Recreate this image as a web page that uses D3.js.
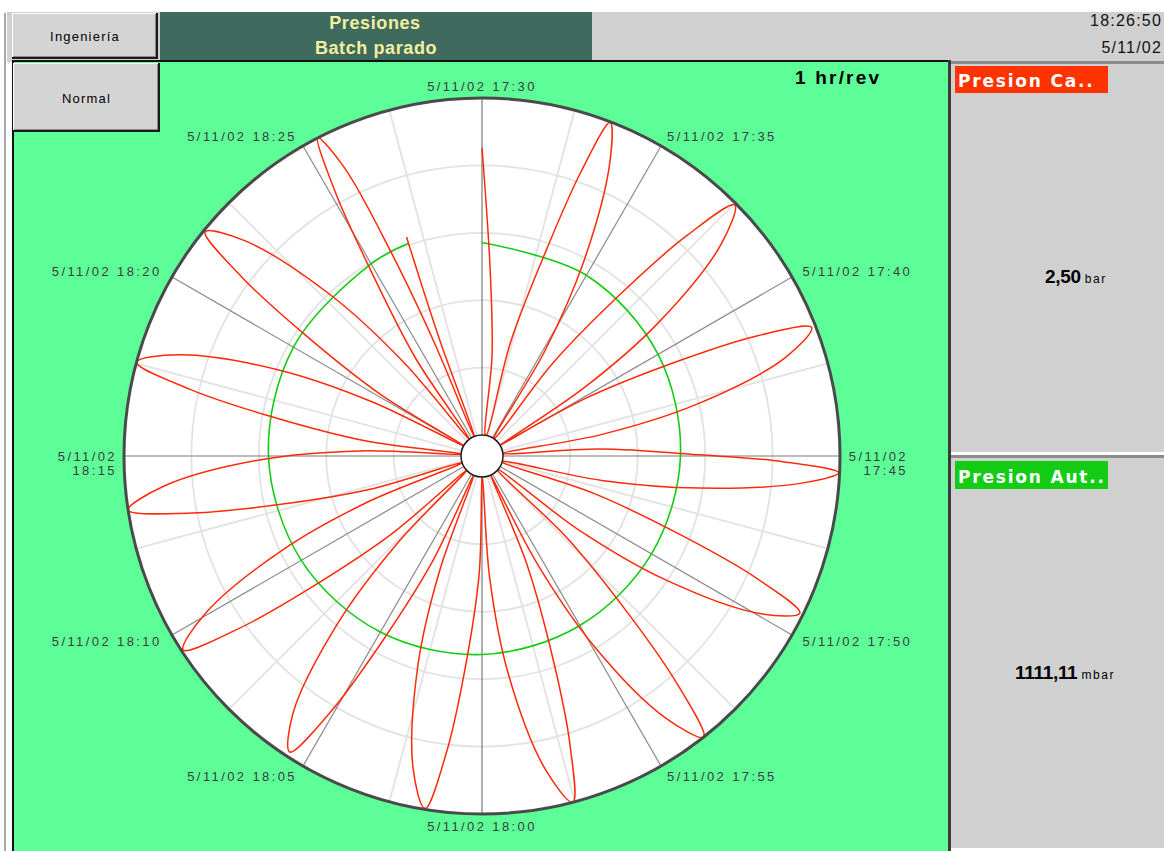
<!DOCTYPE html>
<html><head><meta charset="utf-8">
<script src="https://cdn.jsdelivr.net/npm/d3@7"></script>
<style>html,body{margin:0;padding:0;background:#fff;overflow:hidden}</style>
</head><body>
<svg id="c" width="1164" height="851"></svg>
<script>
// ---------- data ----------
const tickMinutes = [0, 5, 10, 15, 20, 25, 30, 35, 40, 45, 50, 55];
const tickLabels = ["5/11/02 17:30", "5/11/02 17:35", "5/11/02 17:40", "5/11/02 17:45",
  "5/11/02 17:50", "5/11/02 17:55", "5/11/02 18:00", "5/11/02 18:05",
  "5/11/02 18:10", "5/11/02 18:15", "5/11/02 18:20", "5/11/02 18:25"];
const minorMinutes = [2.5, 7.5, 12.5, 17.5, 22.5, 27.5, 32.5, 37.5, 42.5, 47.5, 52.5, 57.5];
const ringValues = [0.8, 1.6, 2.4, 3.2];           // bar
const redDomain = [0, 4];                            // bar
const greenDomain = [0, 1950];                       // mbar

// Presion Ca.. (bar) – minutes after 17:30
const redTime = [
  0, 0.42, 0.95, 1.45,
  1.95, 2.35, 2.90, 3.20, 3.50, 3.93, 4.60, 5.15, 5.65,
  5.93, 6.23, 6.78, 7.15, 7.53, 8.08, 8.83, 9.38, 9.83,
  9.85, 10.15, 10.70, 11.07, 11.45, 12.00, 12.75, 13.30, 13.75,
  13.93, 14.43, 14.95, 15.18, 15.45, 15.82, 16.40, 16.92, 17.45,
  17.78, 18.08, 18.63, 19.00, 19.38, 19.93, 20.68, 21.23, 21.68,
  22.02, 22.32, 22.87, 23.24, 23.62, 24.17, 24.92, 25.47, 25.92,
  25.95, 26.25, 26.80, 27.17, 27.55, 28.10, 28.85, 29.40, 29.85,
  29.93, 30.23, 30.78, 31.15, 31.53, 32.08, 32.83, 33.38, 33.83,
  33.90, 34.20, 34.75, 35.12, 35.50, 36.05, 36.80, 37.35, 37.80,
  37.90, 38.20, 38.75, 39.12, 39.50, 40.05, 40.80, 41.35, 41.80,
  41.95, 42.25, 42.80, 43.17, 43.55, 44.10, 44.85, 45.40, 45.85,
  45.93, 46.23, 46.78, 47.15, 47.53, 48.08, 48.83, 49.38, 49.83,
  49.90, 50.20, 50.75, 51.12, 51.50, 52.05, 52.80, 53.35, 53.80,
  53.90, 54.30, 54.85, 55.15, 55.45, 55.75, 56.00, 56.20, 56.38,
  56.46, 56.66, 56.83
];
const redValue = [
  3.41, 1.96, 0.95, 0,
  0, 1.15, 2.34, 3.32, 3.99, 3.54, 2.36, 1.20, 0,
  0, 1.15, 2.34, 3.32, 3.98, 3.54, 2.36, 1.20, 0,
  0, 1.15, 2.34, 3.32, 3.95, 3.54, 2.36, 1.20, 0,
  0, 1.15, 2.34, 3.32, 3.99, 3.54, 2.36, 1.20, 0,
  0, 1.15, 2.34, 3.32, 3.96, 3.54, 2.36, 1.20, 0,
  0, 1.15, 2.34, 3.32, 4.00, 3.54, 2.36, 1.20, 0,
  0, 1.15, 2.34, 3.32, 4.00, 3.54, 2.36, 1.20, 0,
  0, 1.15, 2.34, 3.32, 3.99, 3.54, 2.36, 1.20, 0,
  0, 1.15, 2.34, 3.32, 3.94, 3.54, 2.36, 1.20, 0,
  0, 1.15, 2.34, 3.32, 3.98, 3.54, 2.36, 1.20, 0,
  0, 1.15, 2.34, 3.32, 4.00, 3.54, 2.36, 1.20, 0,
  0, 1.15, 2.34, 3.32, 4.00, 3.54, 2.36, 1.20, 0,
  0, 1.15, 2.34, 3.32, 3.98, 3.54, 2.36, 1.20, 0,
  0, 1.15, 2.34, 3.32, 4.00, 3.54, 2.36, 1.20, 0,
  0, 1.20, 2.50
];
// Presion Aut.. (mbar)
const greenTime = [0, 5, 10, 15, 20, 25, 30, 35, 40, 45, 50, 55, 56.83];
const greenValue = [1114, 1086, 1055, 1027, 1011, 1011, 1027, 1055, 1086, 1114, 1138, 1162, 1180];

// ---------- drawing ----------
const svg = d3.select("#c");
const W = 1164, H = 851;
const cx = 482, cy = 456, R0 = 21, R1 = 358;
const LBL = "'Liberation Sans', Arial, sans-serif";

svg.append("rect").attr("width", W).attr("height", H).attr("fill", "#ffffff");
svg.append("rect").attr("x", 7).attr("y", 12).attr("width", W - 7).attr("height", 50).attr("fill", "#d0d0d0");
svg.append("rect").attr("x", 4).attr("y", 13).attr("width", 2).attr("height", H).attr("fill", "#a8a8a8");

function button(x, y, w, h, label, ty) {
  svg.append("rect").attr("x", x).attr("y", y).attr("width", w).attr("height", h).attr("fill", "#1a1a1a");
  svg.append("rect").attr("x", x).attr("y", y).attr("width", w - 2).attr("height", h - 2).attr("fill", "#ffffff");
  svg.append("rect").attr("x", x + 1).attr("y", y + 1).attr("width", w - 3).attr("height", h - 3).attr("fill", "#8a8a8a");
  svg.append("rect").attr("x", x + 1).attr("y", y + 1).attr("width", w - 4).attr("height", h - 4).attr("fill", "#d4d4d4");
  svg.append("text").attr("x", x + w / 2).attr("y", ty).attr("text-anchor", "middle")
    .attr("font-family", LBL).attr("font-size", 13).attr("letter-spacing", 1.2).attr("fill", "#000").text(label);
}
button(12, 13, 146, 46, "Ingeniería", 41);

svg.append("rect").attr("x", 160).attr("y", 12).attr("width", 432).attr("height", 48).attr("fill", "#3f6b5f");
svg.append("text").attr("x", 375).attr("y", 29).attr("text-anchor", "middle").attr("font-family", LBL)
  .attr("font-weight", "bold").attr("font-size", 18).attr("letter-spacing", 0.6).attr("fill", "#f4f0a0").text("Presiones");
svg.append("text").attr("x", 376).attr("y", 54).attr("text-anchor", "middle").attr("font-family", LBL)
  .attr("font-weight", "bold").attr("font-size", 18).attr("letter-spacing", 0.6).attr("fill", "#f4f0a0").text("Batch parado");

// clock
svg.append("text").attr("x", 1162).attr("y", 26).attr("text-anchor", "end").attr("font-family", LBL).attr("font-size", 16)
  .attr("letter-spacing", 1.2).attr("fill", "#111").text("18:26:50");
svg.append("text").attr("x", 1162).attr("y", 53).attr("text-anchor", "end").attr("font-family", LBL).attr("font-size", 16)
  .attr("letter-spacing", 1.2).attr("fill", "#111").text("5/11/02");

// main green panel
svg.append("rect").attr("x", 12).attr("y", 60).attr("width", 937).attr("height", H - 60).attr("fill", "#111");
svg.append("rect").attr("x", 14).attr("y", 62).attr("width", 934).attr("height", H - 62).attr("fill", "#5dfd98");
button(13, 63, 147, 69, "Normal", 103);
svg.append("text").attr("x", 795).attr("y", 84).attr("font-family", LBL).attr("font-weight", "bold")
  .attr("font-size", 19).attr("letter-spacing", 2.2).attr("fill", "#000").text("1 hr/rev");

// right panel
svg.append("rect").attr("x", 948).attr("y", 60).attr("width", W - 948).attr("height", H - 60).attr("fill", "#d0d0d0");
svg.append("rect").attr("x", 948).attr("y", 60).attr("width", 3).attr("height", H - 60).attr("fill", "#3a3a3a");
svg.append("rect").attr("x", 951).attr("y", 61).attr("width", W - 951).attr("height", 3).attr("fill", "#8c8c8c");
svg.append("rect").attr("x", 951).attr("y", 452).attr("width", W - 951).attr("height", 3).attr("fill", "#ffffff");
svg.append("rect").attr("x", 951).attr("y", 455).attr("width", W - 951).attr("height", 3).attr("fill", "#8c8c8c");
svg.append("rect").attr("x", 951).attr("y", 848).attr("width", W - 951).attr("height", 3).attr("fill", "#ffffff");

const SB = "'DejaVu Sans', Verdana, sans-serif";
svg.append("rect").attr("x", 955).attr("y", 66).attr("width", 153).attr("height", 27).attr("fill", "#ff3300");
svg.append("text").attr("x", 958).attr("y", 87).attr("font-family", SB).attr("font-weight", "bold")
  .attr("font-size", 17).attr("letter-spacing", 1.8).attr("fill", "#ffffff").text("Presion Ca..");
svg.append("rect").attr("x", 955).attr("y", 461).attr("width", 153).attr("height", 28).attr("fill", "#14cc14");
svg.append("text").attr("x", 958).attr("y", 483).attr("font-family", SB).attr("font-weight", "bold")
  .attr("font-size", 17).attr("letter-spacing", 1.8).attr("fill", "#ffffff").text("Presion Aut..");

function valueText(x, y, val, unit) {
  const t = svg.append("text").attr("x", x).attr("y", y).attr("font-family", LBL).attr("fill", "#000");
  t.append("tspan").attr("font-weight", "bold").attr("font-size", 19).attr("letter-spacing", -0.3).text(val);
  t.append("tspan").attr("dx", 4).attr("font-size", 12).attr("letter-spacing", 1.6).text(unit);
}
valueText(1045, 283, "2,50", "bar");
valueText(1015, 679, "1111,11", "mbar");

// ---------- polar chart ----------
const g = svg.append("g").attr("transform", `translate(${cx},${cy})`);
const ang = d3.scaleLinear().domain([0, 60]).range([0, 2 * Math.PI]);
const rRed = d3.scaleLinear().domain(redDomain).range([R0, R1]);
const rGreen = d3.scaleLinear().domain(greenDomain).range([R0, R1]);

g.append("circle").attr("r", R1).attr("fill", "#ffffff");

g.selectAll("circle.ring").data(ringValues).join("circle").attr("class", "ring")
  .attr("r", d => rRed(d)).attr("fill", "none").attr("stroke", "#e2e2e2").attr("stroke-width", 1.8);

function radial(m, r0, r1) {
  const a = ang(m);
  return [Math.sin(a) * r0, -Math.cos(a) * r0, Math.sin(a) * r1, -Math.cos(a) * r1];
}
g.selectAll("line.minor").data(minorMinutes).join("line").attr("class", "minor")
  .each(function (m) { const p = radial(m, R0, R1); d3.select(this).attr("x1", p[0]).attr("y1", p[1]).attr("x2", p[2]).attr("y2", p[3]); })
  .attr("stroke", "#e2e2e2").attr("stroke-width", 1.8);
g.selectAll("line.major").data(tickMinutes).join("line").attr("class", "major")
  .each(function (m) { const p = radial(m, R0, R1); d3.select(this).attr("x1", p[0]).attr("y1", p[1]).attr("x2", p[2]).attr("y2", p[3]); })
  .attr("stroke", m => (m % 15 === 0 ? "#7a7a7a" : "#8a8a8a")).attr("stroke-width", 1.2);

const greenData = greenTime.map((t, i) => ({ t, v: greenValue[i] }));
const redData = redTime.map((t, i) => ({ t, v: redValue[i] }));
const greenLine = d3.lineRadial().angle(d => ang(d.t)).radius(d => rGreen(d.v)).curve(d3.curveCatmullRom.alpha(0.5));
const redLine = d3.lineRadial().angle(d => ang(d.t)).radius(d => rRed(d.v)).curve(d3.curveCatmullRom.alpha(0.5));
g.append("path").attr("d", greenLine(greenData)).attr("fill", "none").attr("stroke", "#12cc12").attr("stroke-width", 1.6);
g.append("path").attr("d", redLine(redData)).attr("fill", "none").attr("stroke", "#ff2a0a").attr("stroke-width", 1.5);

g.append("circle").attr("r", R0).attr("fill", "#ffffff").attr("stroke", "#1a1a1a").attr("stroke-width", 1.5);
g.append("circle").attr("r", R1).attr("fill", "none").attr("stroke", "#4a4a4a").attr("stroke-width", 3);

const LR = 370;
tickMinutes.forEach((m, i) => {
  const a = ang(m), s = Math.sin(a), c = Math.cos(a);
  const x = s * LR, y = -c * LR;
  const t = g.append("text").attr("font-family", LBL).attr("font-size", 13).attr("letter-spacing", 2.4)
    .attr("fill", "#3c3c3c");
  if (Math.abs(s) > 0.99) {
    const parts = tickLabels[i].split(" ");
    const xe = s > 0 ? 426 : -365;
    t.attr("text-anchor", "end");
    t.append("tspan").attr("x", xe).attr("y", 5).text(parts[0]);
    t.append("tspan").attr("x", xe).attr("y", 19).text(parts[1]);
  } else {
    t.attr("x", x).attr("y", y + 5)
      .attr("text-anchor", Math.abs(s) < 0.01 ? "middle" : (s > 0 ? "start" : "end"))
      .text(tickLabels[i]);
  }
});
</script>
</body></html>
